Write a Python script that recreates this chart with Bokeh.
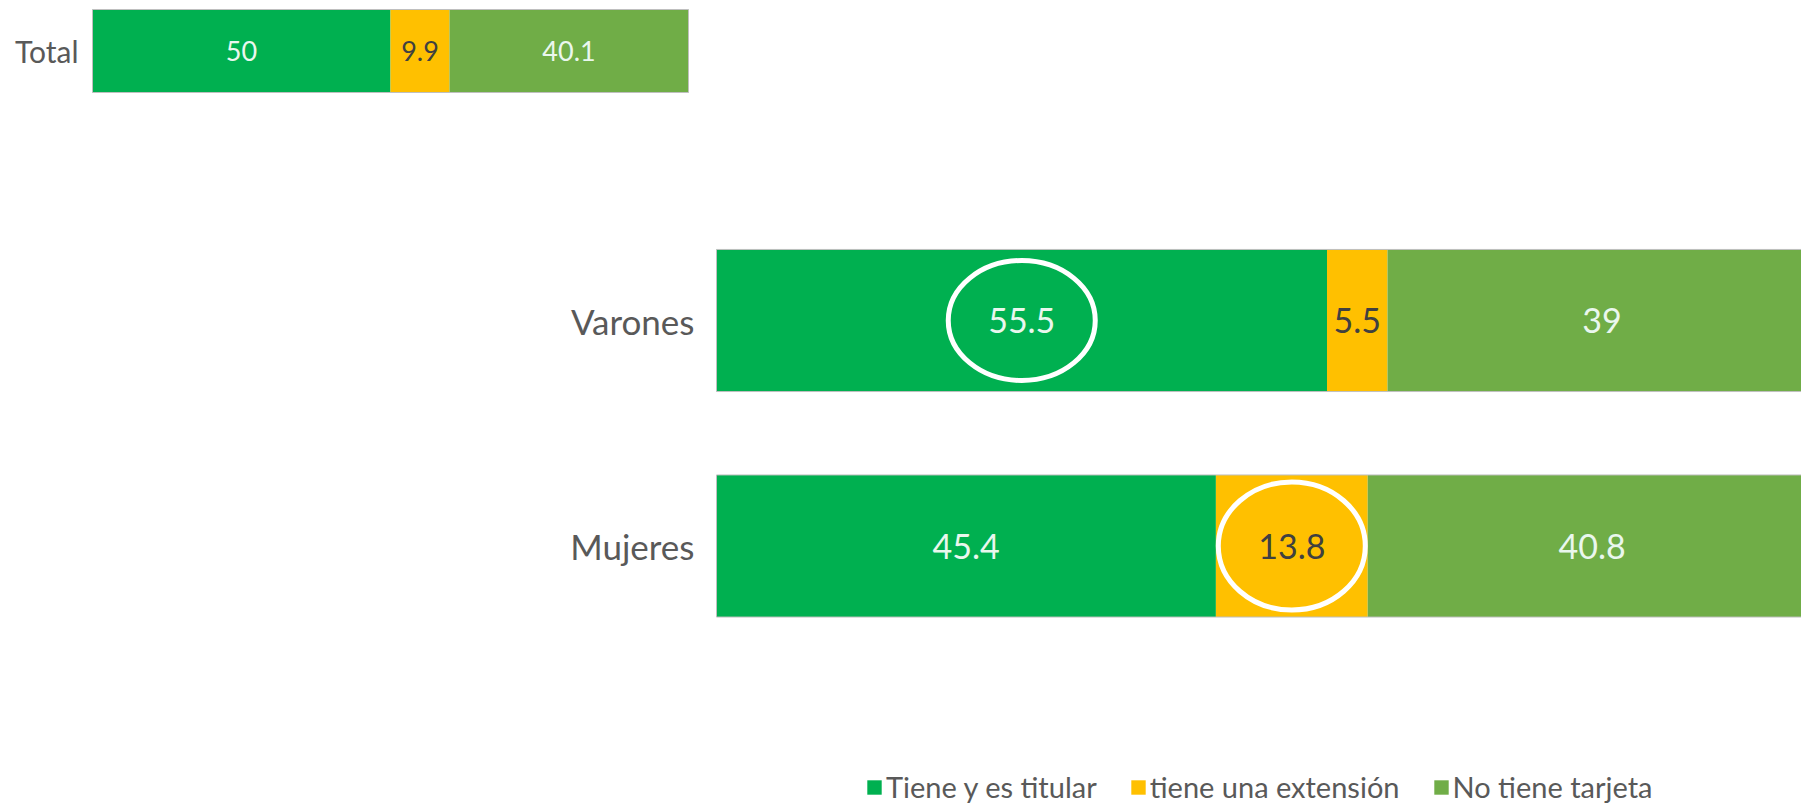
from bokeh.plotting import figure
from bokeh.models import ColumnDataSource, Range1d, Legend, LegendItem
from bokeh.core.properties import value
from bokeh.embed import file_html
from bokeh.resources import INLINE

# ---------------- data ----------------
series = ["Tiene y es titular", "tiene una extensión", "No tiene tarjeta"]
colors = ["#00B050", "#FFC000", "#70AD47"]
label_colors = ["#EAF7EE", "#404040", "#EAF7EE"]

total_cat = ["Total"]
total_titular = [50.0]
total_extension = [9.9]
total_no = [40.1]

groups = ["Varones", "Mujeres"]
grp_titular = [55.5, 45.4]
grp_extension = [5.5, 13.8]
grp_no = [39.0, 40.8]

# segment circled for each group: index into series
highlight_series = [0, 1]

FONT = "Lato"
CAT_COLOR = "#595959"


def fmt(v):
    return f"{v:g}"


def segment_labels(ypos, cols):
    xs, ys, ts, cs = [], [], [], []
    for i, y in enumerate(ypos):
        left = 0.0
        for k, col in enumerate(cols):
            v = col[i]
            xs.append(left + v / 2.0)
            ys.append(y)
            ts.append(fmt(v))
            cs.append(label_colors[k])
            left += v
    return dict(x=xs, y=ys, text=ts, color=cs)


W, H = 1801, 804
p = figure(width=W, height=H,
           x_range=Range1d(-716 / 11.0, (W - 716) / 11.0),
           y_range=Range1d(1 - (H - 320) / 225.5, 1 + 320 / 225.5),
           output_backend="svg", toolbar_location=None,
           min_border_left=0, min_border_right=0, min_border_top=0, min_border_bottom=0)
p.extra_x_ranges = {"tot": Range1d(-92 / 5.96, (W - 92) / 5.96)}
p.extra_y_ranges = {"tot": Range1d(-(H - 50.5) / 83.0, 50.5 / 83.0)}
p.axis.visible = False
p.grid.visible = False
p.outline_line_color = None

# ---------------- Total bar ----------------
tpos = list(range(len(total_cat)))
src_a = ColumnDataSource(dict(y=tpos, **{series[0]: total_titular,
                                         series[1]: total_extension,
                                         series[2]: total_no}))
p.hbar_stack(series, y="y", height=1.0, color=colors, line_color=None, source=src_a,
             x_range_name="tot", y_range_name="tot")
tot_a = [a + b + c for a, b, c in zip(total_titular, total_extension, total_no)]
p.hbar(y=tpos, left=0, right=tot_a, height=1.0, fill_color=None, line_color="#BFBFBF",
       line_width=1, x_range_name="tot", y_range_name="tot")
p.text(x="x", y="y", text="text",
       source=ColumnDataSource(segment_labels(tpos, [total_titular, total_extension, total_no])),
       text_align="center", text_baseline="middle", text_font=value(FONT),
       text_font_size="27px", text_color="color", x_range_name="tot", y_range_name="tot")
p.text(x=[0] * len(total_cat), y=tpos, text=total_cat, x_offset=-14, text_align="right",
       text_baseline="middle", text_font=value(FONT), text_font_size="30px",
       text_color=CAT_COLOR, x_range_name="tot", y_range_name="tot")

# ---------------- Varones / Mujeres ----------------
ypos = list(range(len(groups)))[::-1]  # Varones on top
src_b = ColumnDataSource(dict(y=ypos, **{series[0]: grp_titular,
                                         series[1]: grp_extension,
                                         series[2]: grp_no}))
rb = p.hbar_stack(series, y="y", height=0.63, color=colors, line_color=None, source=src_b)
tot_b = [a + b + c for a, b, c in zip(grp_titular, grp_extension, grp_no)]
p.hbar(y=ypos, left=0, right=tot_b, height=0.63, fill_color=None, line_color="#BFBFBF",
       line_width=1)
cols_b = [grp_titular, grp_extension, grp_no]
p.text(x="x", y="y", text="text", source=ColumnDataSource(segment_labels(ypos, cols_b)),
       text_align="center", text_baseline="middle", text_font=value(FONT),
       text_font_size="34px", text_color="color")
p.text(x=[0] * len(groups), y=ypos, text=groups, x_offset=-22, text_align="right",
       text_baseline="middle", text_font=value(FONT), text_font_size="35px",
       text_color=CAT_COLOR)

# circled segments
ex, ey = [], []
for i, k in enumerate(highlight_series):
    left = sum(cols_b[j][i] for j in range(k))
    ex.append(left + cols_b[k][i] / 2.0)
    ey.append(ypos[i])
p.ellipse(x=ex, y=ey, width=147, height=[120, 128], width_units="screen",
          height_units="screen", fill_color=None, line_color="white", line_width=5)

legend = Legend(items=[LegendItem(label=s, renderers=[r]) for s, r in zip(series, rb)],
                location=(865, 0), orientation="horizontal",
                border_line_color=None, background_fill_alpha=0,
                padding=0, margin=0, spacing=32, label_standoff=3,
                glyph_width=18, glyph_height=18, label_height=18,
                label_text_font=FONT, label_text_font_size="29px",
                label_text_color=CAT_COLOR)
p.add_layout(legend, "center")

open("out.html", "w").write(file_html(p, INLINE))
